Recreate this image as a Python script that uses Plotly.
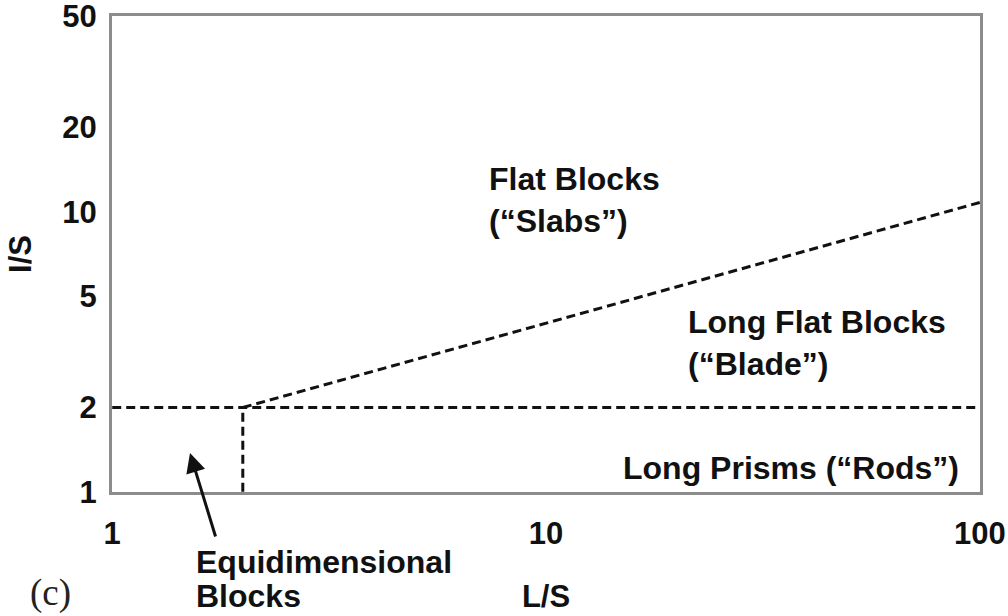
import math
import plotly.graph_objects as go

# Shape-class boundaries on the L/S vs I/S diagram
diag_ls = [2, 100]        # Slabs / Blade boundary
diag_is = [2, 10.8]
horiz_ls = [1, 100]       # I/S = 2 boundary
horiz_is = [2, 2]
vert_ls = [2, 2]          # L/S = 2 boundary for equidimensional blocks
vert_is = [1, 2]

x_ticks = [1, 10, 100]
y_ticks = [1, 2, 5, 10, 20, 50]

# Plot-area geometry in pixels (used to place region labels in paper coords)
W, H = 1008, 616
L, R, T, B = 112, 28, 16, 124
PW, PH = W - L - R, H - T - B


def px(x):
    return (x - L) / PW


def py(y):
    return (H - B - y) / PH


line_style = dict(color="#111111", width=3, dash="9px,5px")

fig = go.Figure()
for xs, ys in [(diag_ls, diag_is), (horiz_ls, horiz_is), (vert_ls, vert_is)]:
    fig.add_trace(go.Scatter(x=xs, y=ys, mode="lines", line=line_style,
                             hoverinfo="skip", showlegend=False, cliponaxis=False))

label_font = dict(family="Liberation Sans, Arial, sans-serif", size=32,
                  color="#111111", weight="bold")
tick_font = dict(label_font, size=31)

regions = [
    ("Flat Blocks<br>(“Slabs”)", 487, 200),
    ("Long Flat Blocks<br>(“Blade”)", 686, 343),
    ("Long Prisms (“Rods”)", 621, 468),
    ("Equidimensional", 194, 562),
    ("Blocks", 194, 596),
]
for text, x, y in regions:
    fig.add_annotation(text=text, xref="paper", yref="paper", x=px(x), y=py(y),
                       xanchor="left", yanchor="middle", align="left",
                       showarrow=False, font=label_font)

# Arrow pointing into the equidimensional region
fig.add_annotation(text="", xref="paper", yref="paper", x=px(190), y=py(453),
                   ax=26, ay=85, showarrow=True, arrowhead=2, arrowsize=1.3,
                   arrowwidth=3, arrowcolor="#111111")

fig.add_annotation(text="(c)", xref="paper", yref="paper", x=px(28), y=py(593),
                   xanchor="left", yanchor="middle", showarrow=False,
                   font=dict(family="Liberation Serif, Times New Roman, serif",
                             size=37, color="#222222"))

axis_common = dict(type="log", showgrid=False, zeroline=False, showline=True,
                   mirror=True, linecolor="#8c8c8c", linewidth=3, ticks="",
                   tickfont=tick_font, automargin=False, ticklabeloverflow="allow")

fig.update_xaxes(range=[-0.0005, 2.0005], tickvals=x_ticks,
                 ticktext=[str(v) for v in x_ticks],
                 ticklabelstandoff=12,
                 title=dict(text="L/S", font=tick_font, standoff=36),
                 **axis_common)
fig.update_yaxes(range=[-0.0005, math.log10(50) + 0.0005], tickvals=y_ticks,
                 ticktext=[str(v) for v in y_ticks], ticklabelstandoff=6,
                 title=dict(text="I/S", font=tick_font, standoff=22),
                 **axis_common)

fig.update_layout(width=W, height=H, margin=dict(l=L, r=R, t=T, b=B),
                  plot_bgcolor="white", paper_bgcolor="white")

fig.write_html("out.html")
